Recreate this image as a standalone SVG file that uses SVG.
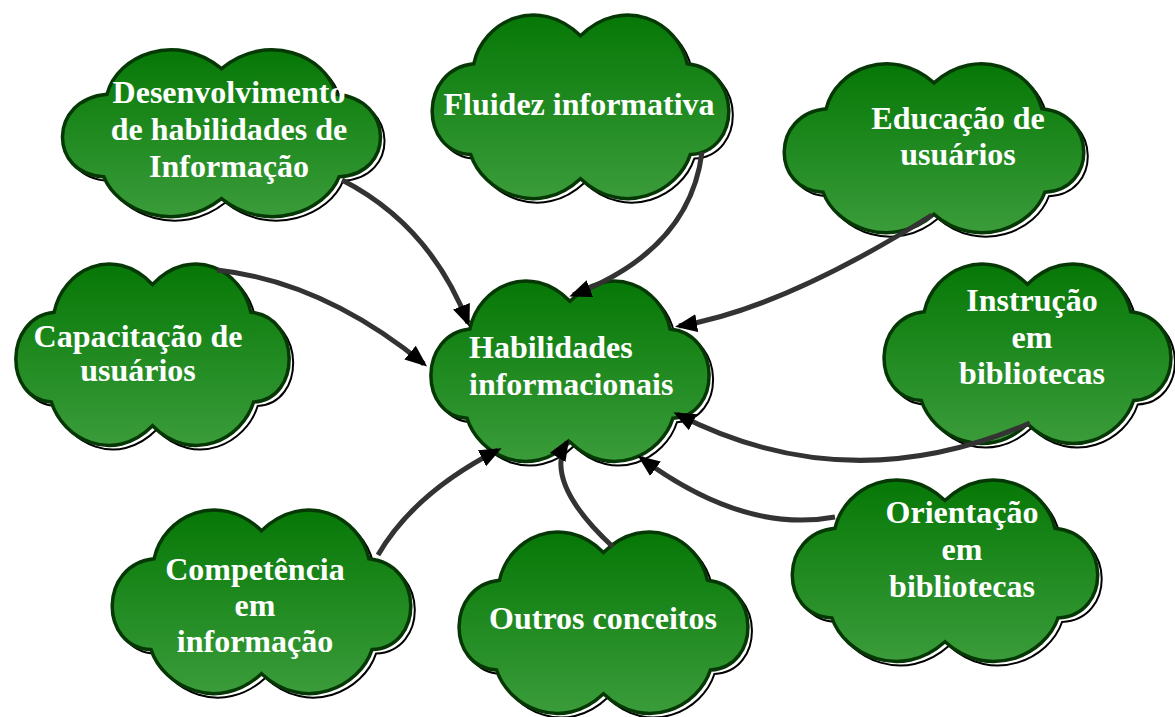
<svg xmlns="http://www.w3.org/2000/svg" xmlns:xlink="http://www.w3.org/1999/xlink" width="1175" height="717" viewBox="0 0 1175 717">
<defs>
<style>
.cloud{fill:url(#g);stroke:#063806;stroke-width:3.5;}
.shadow{fill:#fff;stroke:#000;stroke-width:2;}
.lbl{font-family:"Liberation Serif","Times New Roman",serif;font-weight:bold;font-size:32px;fill:#fff;text-anchor:middle;}
.con{fill:none;stroke:#333;stroke-width:5;marker-end:url(#ah);}
</style>
<linearGradient id="g" x1="0" y1="0" x2="0" y2="1">
<stop offset="0" stop-color="#067806"/>
<stop offset="1" stop-color="#3a9c3a"/>
</linearGradient>
<path id="cp" vector-effect="non-scaling-stroke" d="M30,38 C36,6 72,-14 100,17 C128,-14 164,6 170,38 C206,42 206,104 172,106 C164,134 128,154 100,124 C72,154 36,134 28,106 C-6,104 -6,42 30,38 Z"/>
<marker id="ah" markerUnits="userSpaceOnUse" markerWidth="24" markerHeight="20" viewBox="0 0 24 20" refX="18" refY="10" orient="auto">
<path d="M0,1 L22,10 L0,19 Z" fill="#000"/>
</marker>
</defs>

<g id="n1">
<use href="#cp" class="shadow" transform="translate(62,52) scale(1.635,1.214)"/>
<use href="#cp" class="cloud" transform="translate(58,48) scale(1.635,1.214)"/>
<text class="lbl"><tspan x="229" y="103">Desenvolvimento</tspan><tspan x="229" y="140">de habilidades de</tspan><tspan x="229" y="177">Informação</tspan></text>
</g>
<g id="n2">
<use href="#cp" class="shadow" transform="translate(432,17) scale(1.525,1.336)"/>
<use href="#cp" class="cloud" transform="translate(428,13) scale(1.525,1.336)"/>
<text class="lbl" x="579" y="115">Fluidez informativa</text>
</g>
<g id="n3">
<use href="#cp" class="shadow" transform="translate(784,66) scale(1.54,1.229)"/>
<use href="#cp" class="cloud" transform="translate(780,62) scale(1.54,1.229)"/>
<text class="lbl"><tspan x="958" y="129">Educação de</tspan><tspan x="958" y="165">usuários</tspan></text>
</g>
<g id="n4">
<use href="#cp" class="shadow" transform="translate(16,266) scale(1.405,1.321)"/>
<use href="#cp" class="cloud" transform="translate(12,262) scale(1.405,1.321)"/>
<text class="lbl"><tspan x="138" y="347">Capacitação de</tspan><tspan x="138" y="381">usuários</tspan></text>
</g>
<g id="n5">
<use href="#cp" class="shadow" transform="translate(431,283) scale(1.43,1.314)"/>
<use href="#cp" class="cloud" transform="translate(427,279) scale(1.43,1.314)"/>
<text class="lbl" style="text-anchor:start"><tspan x="469" y="358">Habilidades</tspan><tspan x="469" y="395">informacionais</tspan></text>
</g>
<g id="n6">
<use href="#cp" class="shadow" transform="translate(884,266) scale(1.475,1.307)"/>
<use href="#cp" class="cloud" transform="translate(880,262) scale(1.475,1.307)"/>
<text class="lbl"><tspan x="1032" y="311">Instrução</tspan><tspan x="1032" y="348">em</tspan><tspan x="1032" y="384">bibliotecas</tspan></text>
</g>
<g id="n7">
<use href="#cp" class="shadow" transform="translate(112,512) scale(1.535,1.336)"/>
<use href="#cp" class="cloud" transform="translate(108,508) scale(1.535,1.336)"/>
<text class="lbl"><tspan x="255" y="580">Competência</tspan><tspan x="255" y="616">em</tspan><tspan x="255" y="652">informação</tspan></text>
</g>
<g id="n8">
<use href="#cp" class="shadow" transform="translate(459,534) scale(1.485,1.321)"/>
<use href="#cp" class="cloud" transform="translate(455,530) scale(1.485,1.321)"/>
<text class="lbl" x="603" y="629">Outros conceitos</text>
</g>
<g id="n9">
<use href="#cp" class="shadow" transform="translate(792,482) scale(1.57,1.321)"/>
<use href="#cp" class="cloud" transform="translate(788,478) scale(1.57,1.321)"/>
<text class="lbl"><tspan x="962" y="523">Orientação</tspan><tspan x="962" y="560">em</tspan><tspan x="962" y="597">bibliotecas</tspan></text>
</g>

<g id="connectors">
<path class="con" d="M342,180 Q430,225 468,323"/>
<path class="con" d="M702,152 Q690,250 573,295"/>
<path class="con" d="M932,215 Q782,309 679,326"/>
<path class="con" d="M217,270 Q324,282 424,364"/>
<path class="con" d="M1030,423 Q848,502 677,414"/>
<path class="con" d="M835,517 Q744,534 641,458"/>
<path class="con" d="M613,547 Q543,482 567,442"/>
<path class="con" d="M378,555 Q414,493 498,450"/>
</g>
</svg>
